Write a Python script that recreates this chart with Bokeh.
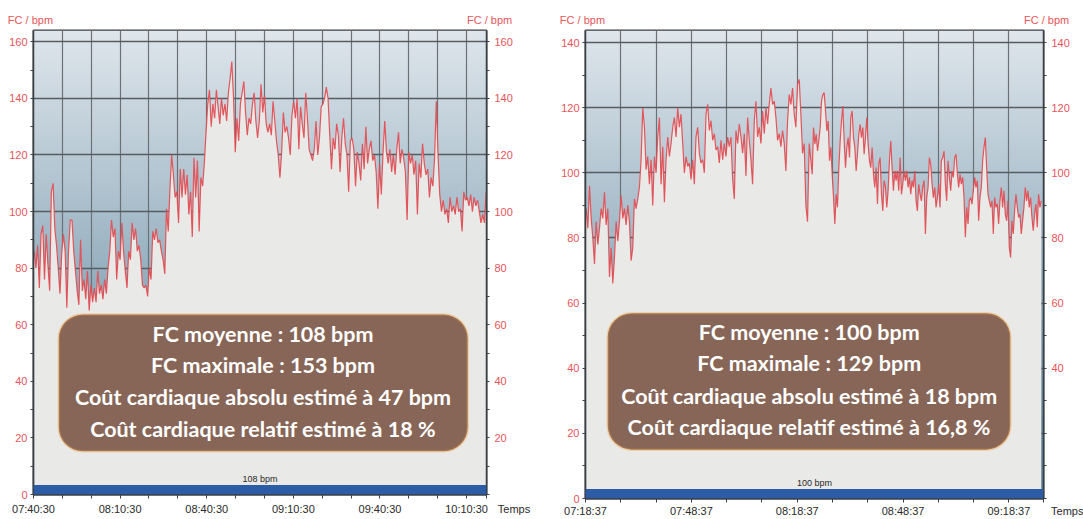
import numpy as np
from bokeh.plotting import figure
from bokeh.layouts import row, column
from bokeh.models import Range1d, FixedTicker, LinearAxis, Label, BoxAnnotation
from bokeh.embed import file_html
from bokeh.resources import INLINE

# ---------------- data ----------------
# left session: heart rate (bpm), one reading every LEFT_STEP minutes from LEFT_T0
LEFT_T0 = 0.24
LEFT_STEP = 0.5952
left_bpm = [
    86, 80, 88, 73, 92, 95, 76, 92, 81, 72,
    107, 110, 94, 88, 80, 71, 85, 92, 86, 66,
    86, 97, 97, 86, 79, 72, 67, 90, 72, 76,
    69, 79, 65, 74, 68, 73, 68, 79, 71, 74,
    69, 76, 71, 80, 86, 97, 91, 94, 76, 86,
    83, 96, 86, 79, 73, 86, 83, 96, 90, 94,
    86, 88, 83, 74, 73, 74, 70, 80, 76, 93,
    90, 94, 89, 90, 86, 83, 78, 101, 93, 108,
    120, 113, 105, 107, 96, 115, 105, 115, 106, 113,
    99, 107, 91, 119, 105, 118, 93, 112, 109, 117,
    128, 138, 143, 130, 138, 133, 143, 137, 131, 140,
    134, 138, 132, 142, 147, 153, 140, 121, 133, 125,
    138, 142, 146, 135, 127, 133, 131, 138, 142, 132,
    126, 132, 145, 135, 141, 131, 128, 131, 127, 139,
    132, 125, 120, 112, 121, 135, 128, 130, 126, 120,
    134, 139, 133, 140, 122, 137, 131, 126, 142, 133,
    122, 120, 118, 122, 132, 120, 126, 137, 138, 140,
    144, 140, 127, 115, 126, 122, 131, 127, 114, 126,
    133, 124, 120, 107, 125, 126, 122, 109, 121, 117,
    111, 124, 115, 130, 117, 122, 125, 118, 120, 114,
    101, 117, 106, 121, 132, 121, 117, 122, 114, 120,
    113, 122, 128, 117, 122, 119, 114, 97, 121, 117,
    120, 113, 118, 99, 117, 112, 124, 117, 113, 115,
    105, 112, 109, 119, 139, 120, 106, 100, 104, 99,
    101, 96, 105, 100, 102, 99, 105, 100, 101, 93,
    107, 104, 105, 102, 106, 100, 105, 102, 104, 100,
    96, 99, 96, 107,
]

# right session: two recording segments with their own reading intervals (minutes)
RIGHT_A_T0 = 0.19
RIGHT_A_STEP = 0.4717
right_bpm_a = [
    89, 83, 96, 86, 80, 72, 85, 78, 83, 89,
    86, 94, 84, 89, 68, 77, 66, 74, 85, 79,
    85, 93, 86, 89, 84, 90, 85, 73, 77, 92,
    89, 92, 95.5, 104, 120, 114, 101, 105, 96.5, 104,
    90, 105, 100, 111, 117, 96.5, 108, 91, 104, 111,
    105, 109, 114, 117, 111, 120, 114, 118, 109, 100,
    105, 102, 103, 98, 104, 96.5, 111, 114, 106, 103,
    104, 100, 118, 121, 113, 116, 110, 112, 107, 108,
    103, 110, 104, 109, 105, 111, 108, 111, 98, 92,
    113, 109, 115, 111, 106, 112, 99, 117, 110, 104,
    96.5, 116, 122, 111, 114, 109, 119, 112, 120, 115,
    121, 126, 121, 122, 117, 110, 112, 108, 113, 109,
    100.6, 116, 124, 121, 126, 118, 114, 127, 128.7, 118,
    106, 109, 90, 85, 109,
]
RIGHT_B_T0 = 64.25
RIGHT_B_STEP = 0.3774
right_bpm_b = [
    99.6, 113.9, 108.8, 111.8, 106.7, 110, 113.9, 122, 124, 124.6,
    119, 112.9, 115.9, 103.7, 107.8, 99.6, 92.4, 84.3, 93.4, 89.4,
    101.6, 109.8, 115.9, 120.5, 109.8, 101.6, 107.8, 110.8, 104.7, 117,
    119, 110.8, 107.8, 100.6, 105.7, 111.8, 114.9, 110.8, 113.9, 105.7,
    110.8, 117, 108.8, 103.7, 101.6, 107.8, 99.6, 95.5, 101.6, 90.4,
    102.6, 104.7, 93.4, 88.3, 97.6, 95.5, 89.4, 94.5, 103.7, 109.8,
    101.6, 94.5, 100.6, 97.6, 100.6, 94.5, 104.7, 93.4, 96.5, 100.6,
    97.6, 100.6, 95.5, 98.6, 93.4, 97.6, 95.5, 100.6, 91.4, 88.3,
    96.5, 93.4, 91.4, 95.5, 97.6, 81.2, 92.4, 95.5, 104.7, 102.6,
    96.5, 92.4, 95.5, 89.4, 92.4, 96.5, 89.4, 103.7, 104.7, 106.7,
    96.5, 91.4, 103.7, 98.6, 94.5, 100.6, 98.6, 104.7, 105.7, 99.6,
    95.5, 99.6, 96.5, 98.6, 92.4, 80.2, 89.4, 84.3, 91.4, 92.4,
    90.4, 94.5, 98.6, 95.5, 97.6, 85.3, 92.4, 95.5, 103.7, 107.8,
    110.8, 101.6, 93.4, 91.4, 89.4, 91.4, 81.2, 92.4, 89.4, 90.4,
    84.3, 91.4, 95.5, 89.4, 94.5, 87.3, 85.3, 91.4, 77.1, 74,
    85.3, 81.2, 88.3, 93.4, 89.4, 86.3, 87.3, 81.2, 85.3, 89.4,
    95.5, 91.4, 94.5, 89.4, 92.4, 86.3, 82.2, 87.3, 90.4, 83.3,
    93.4, 89.4, 91.4,
]

left_time_labels = ["07:40:30", "08:10:30", "08:40:30", "09:10:30", "09:40:30", "10:10:30"]
right_time_labels = ["07:18:37", "07:48:37", "08:18:37", "08:48:37", "09:18:37"]
y_title = "FC / bpm"
x_title = "Temps"
left_mean_label = "108 bpm"
right_mean_label = "100 bpm"
left_box_lines = ["FC moyenne\u202f: 108 bpm", "FC maximale\u202f: 153 bpm",
                  "Coût cardiaque absolu estimé à 47 bpm", "Coût cardiaque relatif estimé à 18 %"]
right_box_lines = ["FC moyenne\u202f: 100 bpm", "FC maximale\u202f: 129 bpm",
                   "Coût cardiaque absolu estimé à 18 bpm", "Coût cardiaque relatif estimé à 16,8 %"]

left_minutes = [LEFT_T0 + i * LEFT_STEP for i in range(len(left_bpm))]
right_minutes = ([RIGHT_A_T0 + i * RIGHT_A_STEP for i in range(len(right_bpm_a))] +
                 [RIGHT_B_T0 + i * RIGHT_B_STEP for i in range(len(right_bpm_b))])
right_bpm = right_bpm_a + right_bpm_b

# ---------------- style ----------------
RED = "#e3474c"
TICK_RED = "#e8545a"
DARK = "#3a3f44"
FONT = "Liberation Sans"
BOX_FONT = "Lato"
NB = "\u00a0"


def gradient(p, xmax, ymax):
    n = 256
    img = np.empty((n, 1), dtype=np.uint32)
    view = img.view(dtype=np.uint8).reshape((n, 1, 4))
    frac = np.linspace(0.0, 1.0, n)[:, None]
    bottom = np.array([84, 127, 151], dtype=float)[None, :]
    top = np.array([223, 230, 236], dtype=float)[None, :]
    cols = bottom + (top - bottom) * frac
    view[:, 0, 0:3] = cols.astype(np.uint8)
    view[:, 0, 3] = 255
    r = p.image_rgba(image=[img], x=0, y=0, dw=xmax, dh=ymax)
    r.level = "image"


def style_labels(ax, color):
    ax.major_label_text_font = FONT
    ax.major_label_text_font_size = "11px"
    ax.major_label_text_color = color


def make_chart(minutes, bpm, xmax, ymax, time_labels, right_labels, mean_label,
               bar_h, box, box_lines, text_x, text_ys, width, border_l, border_r,
               border_b, x_standoff):
    p = figure(width=width, height=519, output_backend="svg", toolbar_location=None,
               x_range=Range1d(0, xmax), y_range=Range1d(0, ymax),
               min_border_left=border_l, min_border_right=border_r,
               min_border_top=30, min_border_bottom=border_b)
    p.background_fill_color = "#e9e9e7"
    p.border_fill_color = "white"
    p.outline_line_color = DARK
    p.outline_line_width = 2

    gradient(p, xmax, ymax)

    yt = list(range(0, int(ymax) + 1, 20))
    yminor = list(range(10, int(ymax) + 1, 20))
    yall = list(range(0, int(ymax) + 1, 10))
    xt = list(range(0, int(xmax) + 1, 10))

    p.xgrid.ticker = FixedTicker(ticks=xt)
    p.ygrid.ticker = FixedTicker(ticks=yt)
    p.xgrid.grid_line_color = "#6b7176"
    p.xgrid.grid_line_width = 1.2
    p.ygrid.grid_line_color = "#575c61"
    p.ygrid.grid_line_width = 1.6

    p.varea(x=minutes, y1=0, y2=bpm, fill_color="#e9e9e7")
    p.line(x=minutes, y=bpm, line_color=RED, line_width=1.2, line_alpha=0.9)

    # mean band at the bottom
    p.add_layout(BoxAnnotation(left=0, right=xmax, bottom=0, top=bar_h,
                               fill_color="#2c5ca6", fill_alpha=1, line_color=None))
    p.add_layout(Label(x=xmax / 2, y=bar_h, text=mean_label, text_align="center",
                       text_baseline="bottom", y_offset=1, text_font=FONT,
                       text_font_size="9px", text_color="#2a2a2a"))

    # bottom time axis (the last tick, at the right corner, carries "Temps")
    xa = p.below[0]
    xa.ticker = FixedTicker(ticks=xt + [xmax])
    over = {t: "" for t in xt}
    for i, lab in enumerate(time_labels):
        over[i * 30] = lab
    over[xmax] = NB * 18 + x_title
    xa.major_label_overrides = over
    style_labels(xa, "#2a2a2a")
    xa.major_label_standoff = x_standoff
    xa.major_tick_out = 4
    xa.major_tick_in = 0
    xa.minor_tick_line_color = None
    xa.axis_line_color = DARK
    xa.axis_line_width = 2
    xa.major_tick_line_color = DARK

    # top axis carrying the two "FC / bpm" titles at the corners
    ta = LinearAxis(ticker=FixedTicker(ticks=[0, xmax]))
    ta.major_label_overrides = {0: y_title + NB * 2, xmax: NB * 2 + y_title}
    style_labels(ta, TICK_RED)
    ta.major_label_standoff = 5
    ta.major_tick_out = 0
    ta.major_tick_in = 0
    ta.major_tick_line_color = None
    ta.minor_tick_line_color = None
    ta.axis_line_color = None
    p.add_layout(ta, "above")

    # left value axis
    ya = p.left[0]
    ya.ticker = FixedTicker(ticks=yt, minor_ticks=yminor)
    style_labels(ya, TICK_RED)
    ya.major_label_standoff = 3
    ya.major_tick_out = 3
    ya.major_tick_in = 0
    ya.minor_tick_out = 3
    ya.minor_tick_in = 0
    ya.axis_line_color = DARK
    ya.axis_line_width = 1.5
    ya.major_tick_line_color = DARK
    ya.minor_tick_line_color = DARK

    # right value axis
    ra = LinearAxis(ticker=FixedTicker(ticks=right_labels, minor_ticks=yall))
    style_labels(ra, TICK_RED)
    ra.major_label_standoff = 5
    ra.major_tick_out = 0
    ra.major_tick_in = 0
    ra.major_tick_line_color = None
    ra.minor_tick_out = 3
    ra.minor_tick_in = 0
    ra.minor_tick_line_color = DARK
    ra.axis_line_color = DARK
    ra.axis_line_width = 1.5
    p.add_layout(ra, "right")

    # summary box
    l, r, b, t = box
    p.add_layout(BoxAnnotation(left=l, right=r, bottom=b, top=t, fill_color="#876658",
                               fill_alpha=1, line_color="#f59d2e", line_width=2.5,
                               border_radius=24))
    for line, yy in zip(box_lines, text_ys):
        p.add_layout(Label(x=text_x, y=yy, text=line, text_align="center",
                           text_baseline="middle", text_font=BOX_FONT,
                           text_font_style="bold", text_font_size="21.5px",
                           text_color="white"))
    return p


p1 = make_chart(left_minutes, left_bpm, 156.9, 164.0, left_time_labels,
                [20, 40, 60, 80, 100, 120, 140, 160],
                left_mean_label, 3.35, (8.75, 150.4, 15.3, 63.6), left_box_lines,
                79.5, [56.9, 45.9, 34.3, 23.3], 548, 33, 62, 25, 4)
p2 = make_chart(right_minutes, right_bpm, 129.8, 143.7, right_time_labels,
                [40, 60, 80, 100, 120, 140],
                right_mean_label, 2.9, (6.3, 120.4, 15.0, 56.9), right_box_lines,
                63.4, [51.1, 41.6, 31.5, 22.0], 535, 37, 40, 19, 2)

layout = row(column(p1), column(p2))
open("out.html", "w").write(file_html(layout, INLINE))
